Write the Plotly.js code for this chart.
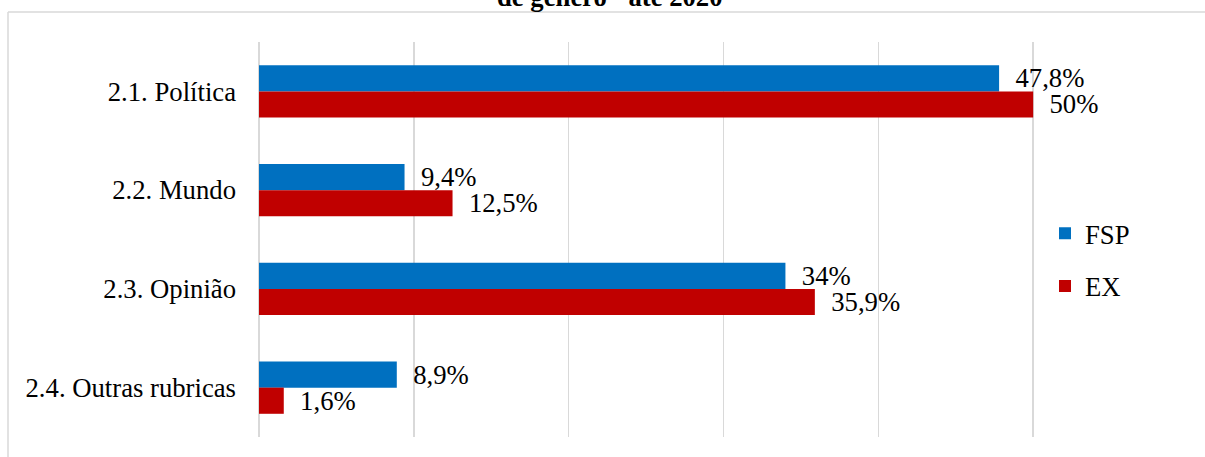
<!DOCTYPE html>
<html>
<head>
<meta charset="utf-8">
<script src="https://cdn.plot.ly/plotly-3.0.1.min.js"></script>
<style>
html,body{margin:0;padding:0;background:#fff;}
#chart{width:1205px;height:457px;}
</style>
</head>
<body>
<div id="chart"></div>
<script>
const categories = ["2.1. Política", "2.2. Mundo", "2.3. Opinião", "2.4. Outras rubricas"];
const fspValues = [47.8, 9.4, 34, 8.9];
const exValues = [50, 12.5, 35.9, 1.6];
const seriesNames = ["FSP", "EX"];
const titleText = 'de gênero" até 2020';

const pad = '\u00a0\u00a0';
const serif = 'Liberation Serif';
const FS = 26.7;
function sf(size) { return {family: serif, size: size, color: '#000'}; }

function barTrace(name, values, color, group) {
  return {
    type: 'bar',
    orientation: 'h',
    name: name,
    y: categories,
    x: values,
    marker: {color: color},
    texttemplate: pad + '%{x}%',
    textposition: 'outside',
    constraintext: 'none',
    cliponaxis: false,
    textfont: sf(FS),
    outsidetextfont: sf(FS),
    legendgroup: group,
    hoverinfo: 'x+y+name'
  };
}

const data = [
  barTrace(seriesNames[0], fspValues, '#0070C0', 'g1'),
  barTrace(seriesNames[1], exValues, '#C00000', 'g2')
];

const grid = '#D9D9D9';
const layout = {
  width: 1205,
  height: 457,
  margin: {l: 259, r: 17, t: 42, b: 20},
  paper_bgcolor: '#fff',
  plot_bgcolor: '#fff',
  separators: ',.',
  barmode: 'group',
  bargap: 0.47,
  bargroupgap: 0,
  font: sf(FS),
  showlegend: true,
  legend: {
    x: (1045 - 259) / 929, xref: 'paper',
    y: (437 - 260) / 395, yanchor: 'middle',
    font: sf(FS),
    tracegroupgap: 15,
    bgcolor: 'rgba(0,0,0,0)',
    itemwidth: 30
  },
  xaxis: {
    range: [0, 60],
    dtick: 10,
    showgrid: true,
    gridcolor: grid,
    gridwidth: 1.5,
    zeroline: true,
    zerolinecolor: grid,
    zerolinewidth: 1.5,
    showticklabels: false,
    ticks: '',
    showline: false,
    fixedrange: true
  },
  yaxis: {
    autorange: 'reversed',
    showgrid: false,
    zeroline: false,
    ticks: '',
    ticklabelstandoff: 22,
    tickfont: sf(FS),
    showline: false,
    fixedrange: true
  },
  annotations: [{
    text: '<b>' + titleText + '</b>',
    xref: 'paper', yref: 'paper',
    x: (610 - 259) / 929, y: (437 - 14) / 395,
    xanchor: 'center', yanchor: 'bottom',
    showarrow: false,
    font: sf(FS)
  }],
  shapes: [
    {type: 'line', xref: 'paper', yref: 'paper', x0: (8 - 259) / 929, x1: 1.03, y0: (437 - 12) / 395, y1: (437 - 12) / 395, line: {color: grid, width: 1.5}},
    {type: 'line', xref: 'paper', yref: 'paper', x0: (8 - 259) / 929, x1: (8 - 259) / 929, y0: (437 - 12) / 395, y1: -0.08, line: {color: grid, width: 1.5}}
  ]
};

Plotly.newPlot('chart', data, layout, {displayModeBar: false, staticPlot: true});
</script>
</body>
</html>
